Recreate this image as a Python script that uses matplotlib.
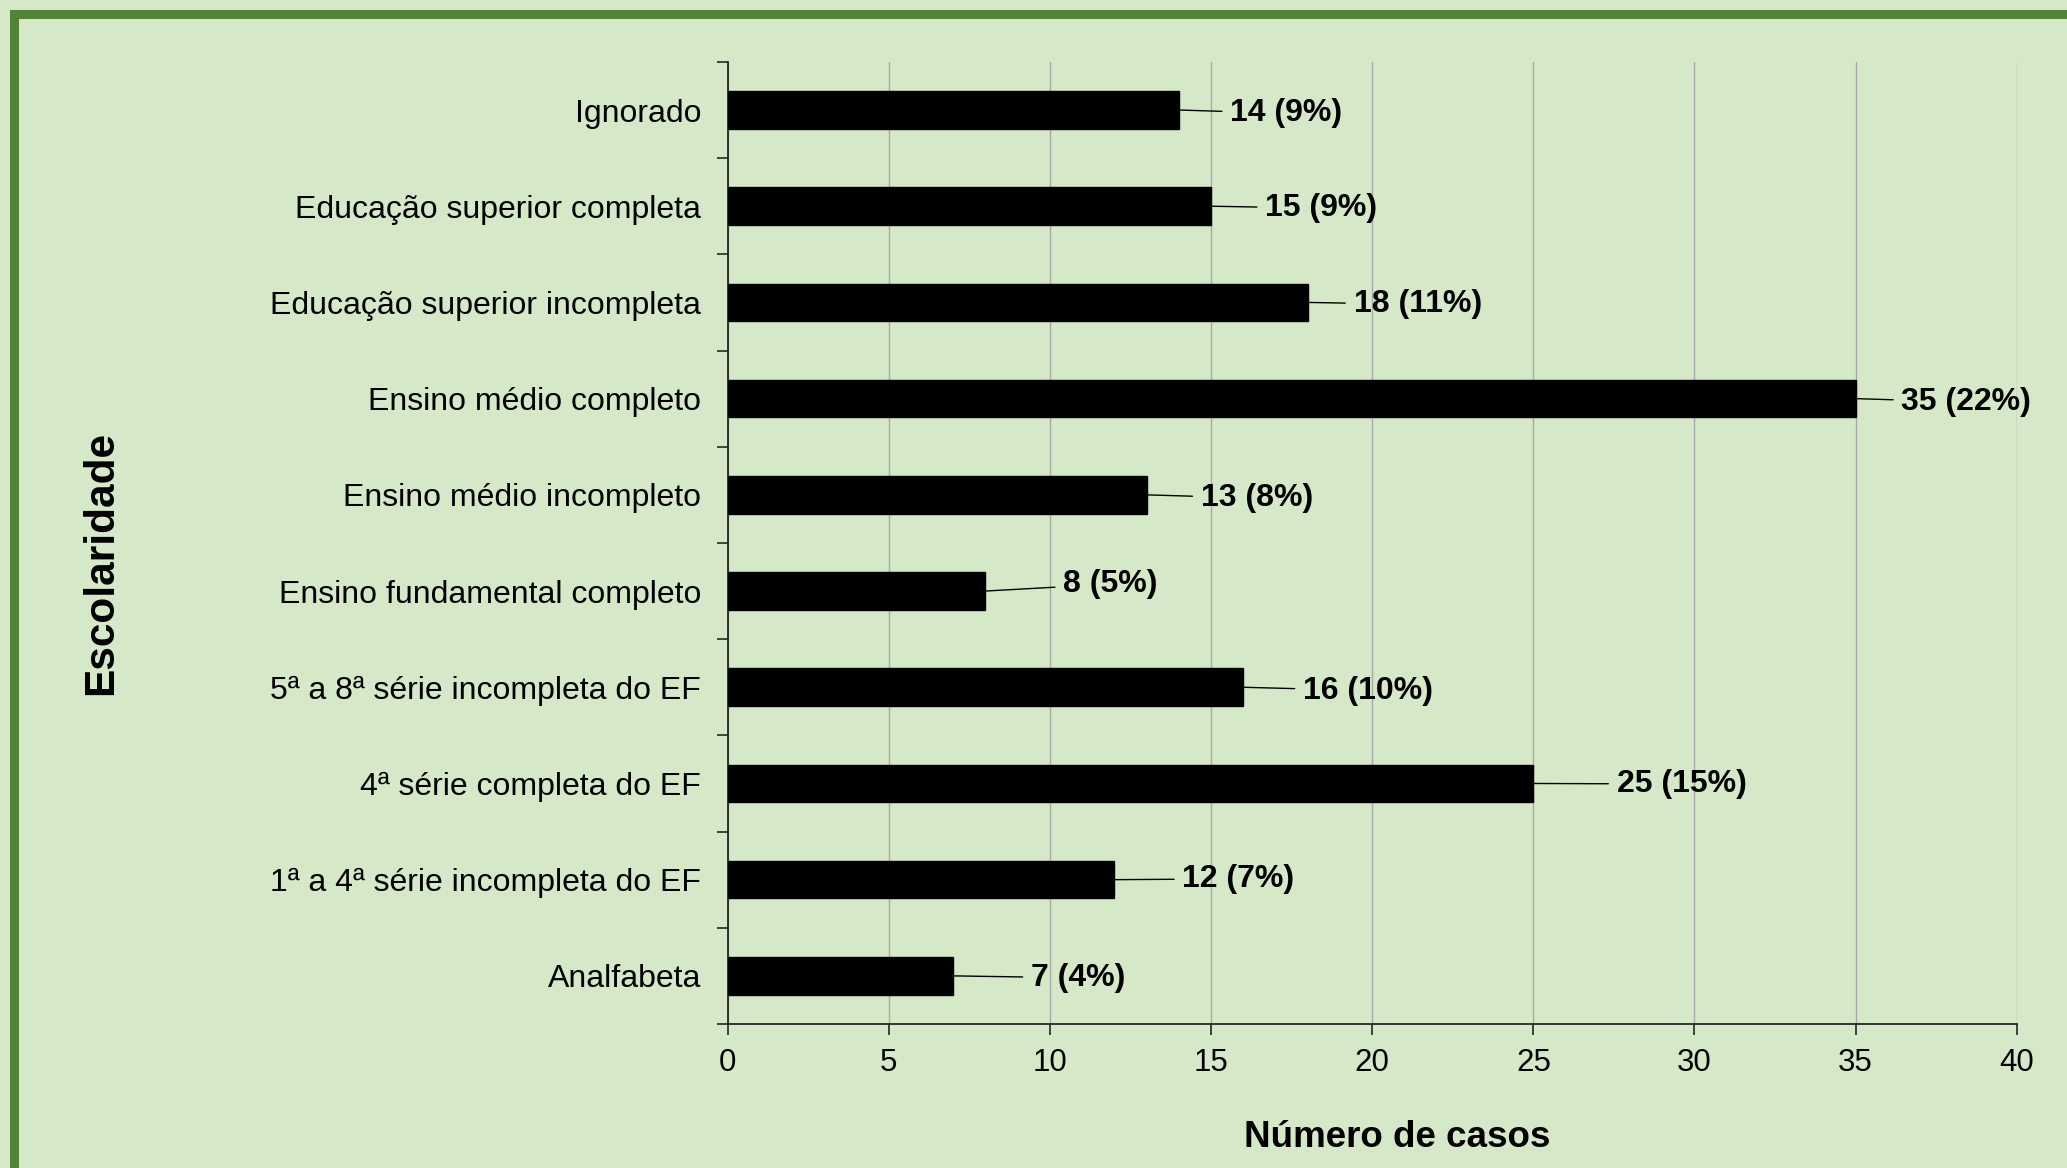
import matplotlib.pyplot as plt
from matplotlib.patches import Rectangle

plt.rcParams['font.family'] = ['Liberation Sans', 'DejaVu Sans']

categorias = ['Ignorado', 'Educação superior completa', 'Educação superior incompleta',
              'Ensino médio completo', 'Ensino médio incompleto',
              'Ensino fundamental completo', '5ª a 8ª série incompleta do EF',
              '4ª série completa do EF', '1ª a 4ª série incompleta do EF', 'Analfabeta']
casos = [14, 15, 18, 35, 13, 8, 16, 25, 12, 7]
percentuais = [9, 9, 11, 22, 8, 5, 10, 15, 7, 4]
x_ticks = [0, 5, 10, 15, 20, 25, 30, 35, 40]

# deslocamento dos rótulos (pontos) em relação à ponta da barra
rotulo_dx = [37, 39, 33, 33, 39, 56, 43, 60, 49, 56]
rotulo_dy = [-2.4, -1.4, -1.4, -2.4, -2.4, 5, -2.4, -0.4, 0.6, -1.4]

fundo = '#D5E8C7'
borda = '#548235'

fig = plt.figure(figsize=(20.67, 11.68), dpi=100, facecolor=fundo)
ax = fig.add_axes([0.352, 0.1233, 0.9757 - 0.352, 0.947 - 0.1233])
ax.set_facecolor(fundo)

pos = list(range(len(categorias)))
ax.barh(pos, casos, height=0.39, color='black', edgecolor='black', zorder=3)

for i, (v, p) in enumerate(zip(casos, percentuais)):
    ax.annotate(f'{v} ({p}%)', xy=(v, i), xytext=(rotulo_dx[i], rotulo_dy[i]),
                textcoords='offset points', ha='left', va='center',
                fontsize=23, fontweight='bold',
                arrowprops=dict(arrowstyle='-', color='black', lw=1.0,
                                shrinkA=4, shrinkB=0))

ax.set_xlim(0, 40)
ax.set_ylim(len(categorias) - 0.5, -0.5)
ax.set_xticks(x_ticks)
ax.set_xticklabels([str(t) for t in x_ticks], fontsize=22.5)
ax.set_yticks([i - 0.5 for i in range(len(categorias) + 1)])
ax.set_yticklabels([])
ax.set_yticks(pos, minor=True)
ax.set_yticklabels(categorias, minor=True, fontsize=23)
ax.tick_params(axis='y', which='minor', length=0, pad=19)
ax.tick_params(axis='y', which='major', length=7.6, width=1.2, color='#262626')
ax.tick_params(axis='x', length=7.6, width=1.2, color='#262626', pad=10)

ax.xaxis.grid(True, color='#A9A9A9', lw=1.0)
ax.set_axisbelow(True)
for s in ['top', 'right']:
    ax.spines[s].set_visible(False)
for s in ['left', 'bottom']:
    ax.spines[s].set_color('#262626')
    ax.spines[s].set_linewidth(1.3)

fig.text(0.049, 0.518, 'Escolaridade', rotation=90, ha='center', va='center',
         fontsize=30.5, fontweight='bold')
fig.text(0.676, 0.026, 'Número de casos', ha='center', va='center',
         fontsize=26.5, fontweight='bold')

W, H = 2067, 1168
fig.patches.append(Rectangle((13.5 / W, -2 / H), 1.02, 1 - 13.5 / H + 2 / H,
                             transform=fig.transFigure, fill=False,
                             edgecolor=borda, linewidth=6.5, clip_on=False))

fig.savefig('out.png', dpi=100, facecolor=fundo)
